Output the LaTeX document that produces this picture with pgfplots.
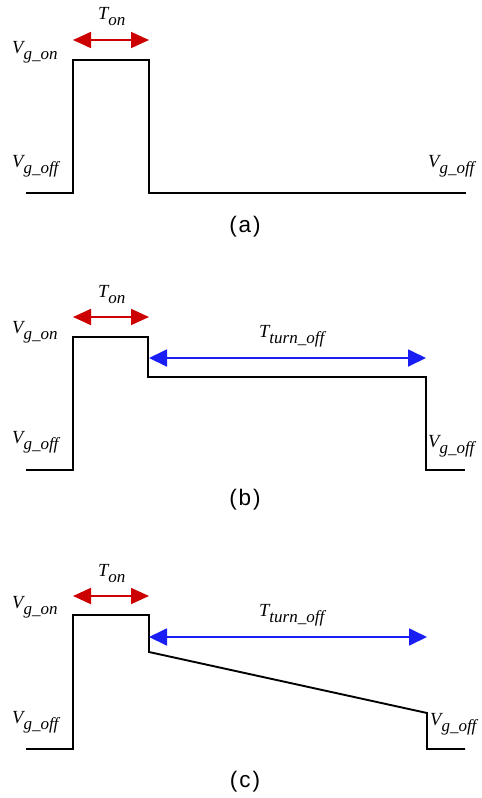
\documentclass[border=0pt]{standalone}
\usepackage{pgfplots}
\pgfplotsset{compat=1.18}
\usetikzlibrary{arrows.meta}
\usepackage{fontspec}
\setmainfont{Liberation Sans}
\newfontfamily\tnr{Liberation Serif}

\definecolor{ared}{RGB}{204,0,0}
\definecolor{ablue}{RGB}{25,30,245}

% italic symbol with a large, lowered subscript
\newcommand\sig[2]{{\tnr\itshape\fontsize{18.5}{20}\selectfont #1\raisebox{-6.5pt}{\fontsize{17}{19}\selectfont #2}}}
\newcommand\subcap[1]{{\fontsize{22.5}{24}\selectfont (\kern2pt#1\kern2pt)}}

\begin{document}
\begin{tikzpicture}[
  wave/.style={black, line width=1.9pt, line join=miter},
  ton/.style={ared, line width=1.8pt,
    {Triangle[length=18pt,width=16pt]}-{Triangle[length=18pt,width=16pt]}},
  toff/.style={ablue, line width=1.8pt,
    {Triangle[length=18pt,width=17pt]}-{Triangle[length=18pt,width=17pt]}},
  lbl/.style={anchor=base west, inner sep=0pt},
]
\begin{axis}[
  width=482pt, height=798pt, scale only axis,
  xmin=0, xmax=482, ymin=0, ymax=798, y dir=reverse,
  hide axis, clip=false,
]
% keep the page the size of the whole axis area
\path (rel axis cs:0,0) rectangle (rel axis cs:1,1);
% (a) gate pulse only
\addplot[wave] coordinates {(26,193) (73,193) (73,60) (149,60) (149,193) (466,193)};
\addplot[ton] coordinates {(73,40) (149,40)};
% (b) constant intermediate level during turn-off
\addplot[wave] coordinates {(26,470) (73,470) (73,337) (148,337) (148,377) (426,377) (426,470) (465,470)};
\addplot[ton] coordinates {(73,317) (149,317)};
\addplot[toff] coordinates {(149,358) (426,358)};
% (c) ramp during turn-off
\addplot[wave] coordinates {(26,749) (73,749) (73,615) (149,615) (149,652) (427,713) (427,749) (465,749)};
\addplot[ton] coordinates {(73,596) (149,596)};
\addplot[toff] coordinates {(149,637) (427,637)};

% labels (a)
\node[lbl] at (axis cs:98,19) {\sig{T}{on}};
\node[lbl] at (axis cs:12,53) {\sig{V}{g\_on}};
\node[lbl] at (axis cs:12,167) {\sig{V}{g\_off}};
\node[lbl] at (axis cs:428,167) {\sig{V}{g\_off}};
\node at (axis cs:245,227) {\subcap{a}};
% labels (b)
\node[lbl] at (axis cs:98,297) {\sig{T}{on}};
\node[lbl] at (axis cs:259,337) {\sig{T}{turn\_off}};
\node[lbl] at (axis cs:12,333) {\sig{V}{g\_on}};
\node[lbl] at (axis cs:12,443) {\sig{V}{g\_off}};
\node[lbl] at (axis cs:428,447) {\sig{V}{g\_off}};
\node at (axis cs:245,500) {\subcap{b}};
% labels (c)
\node[lbl] at (axis cs:98,576) {\sig{T}{on}};
\node[lbl] at (axis cs:259,616) {\sig{T}{turn\_off}};
\node[lbl] at (axis cs:12,608) {\sig{V}{g\_on}};
\node[lbl] at (axis cs:12,723) {\sig{V}{g\_off}};
\node[lbl] at (axis cs:430,725) {\sig{V}{g\_off}};
\node at (axis cs:245,782) {\subcap{c}};
\end{axis}
\end{tikzpicture}
\end{document}
